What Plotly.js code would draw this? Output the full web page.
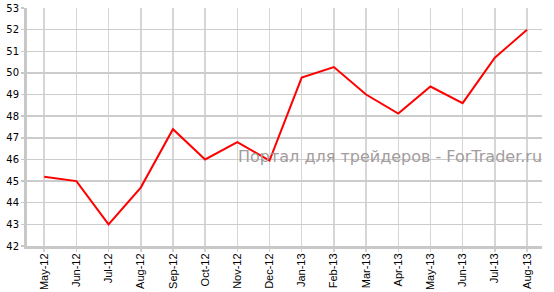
<!DOCTYPE html>
<html>
<head>
<meta charset="utf-8">
<script src="https://cdn.plot.ly/plotly-3.0.1.min.js"></script>
<style>html,body{margin:0;padding:0;background:#fff;}#chart{width:554px;height:292px;}</style>
</head>
<body>
<div id="chart"></div>
<script>
const categories = ["May-12","Jun-12","Jul-12","Aug-12","Sep-12","Oct-12","Nov-12","Dec-12","Jan-13","Feb-13","Mar-13","Apr-13","May-13","Jun-13","Jul-13","Aug-13"];
const values = [45.2, 45.0, 43.0, 44.7, 47.4, 46.0, 46.8, 45.95, 49.78, 50.27, 49.0, 48.12, 49.37, 48.6, 50.7, 52.0];
const yTicks = [42,43,44,45,46,47,48,49,50,51,52,53];
const watermark = "Портал для трейдеров - ForTrader.ru";

const trace = {
  x: categories.map((c,i)=>i),
  y: values,
  type: "scatter",
  mode: "lines",
  line: {color: "#ff0000", width: 2},
  hoverinfo: "skip"
};

const layout = {
  width: 554, height: 292,
  margin: {l: 27, r: 12, t: 8, b: 46},
  paper_bgcolor: "#ffffff",
  plot_bgcolor: "#ffffff",
  showlegend: false,
  xaxis: {
    range: [-0.534, 15.466],
    tickvals: categories.map((c,i)=>i),
    ticktext: categories,
    tickangle: -90,
    showgrid: true, gridcolor: "#d6d6d6", gridwidth: 1.5,
    showline: true, linecolor: "#c8c8c8", linewidth: 3,
    ticks: "outside", ticklen: 3, tickcolor: "#d0d0d0", tickwidth: 1.5,
    ticklabelstandoff: -3,
    tickfont: {family: "Liberation Sans, Arial, sans-serif", size: 11, color: "#000"},
    zeroline: false, fixedrange: true
  },
  yaxis: {
    range: [42, 53],
    tickvals: yTicks,
    ticktext: yTicks.map(String),
    showgrid: true, gridcolor: "#cccccc", gridwidth: 1.5,
    showline: true, linecolor: "#c8c8c8", linewidth: 3,
    ticks: "outside", ticklen: 3, tickcolor: "#c8c8c8", tickwidth: 1.5,
    tickfont: {family: "DejaVu Sans, Verdana, sans-serif", size: 10, color: "#000"},
    zeroline: false, fixedrange: true
  },
  annotations: [{
    text: watermark,
    xref: "paper", yref: "paper",
    x: 1.003, y: 0.375,
    xanchor: "right", yanchor: "middle",
    showarrow: false,
    font: {family: "DejaVu Sans, Verdana, sans-serif", size: 16, color: "#a39c9c"}
  }]
};

Plotly.newPlot("chart", [trace], layout, {staticPlot: true, displayModeBar: false});
</script>
</body>
</html>
